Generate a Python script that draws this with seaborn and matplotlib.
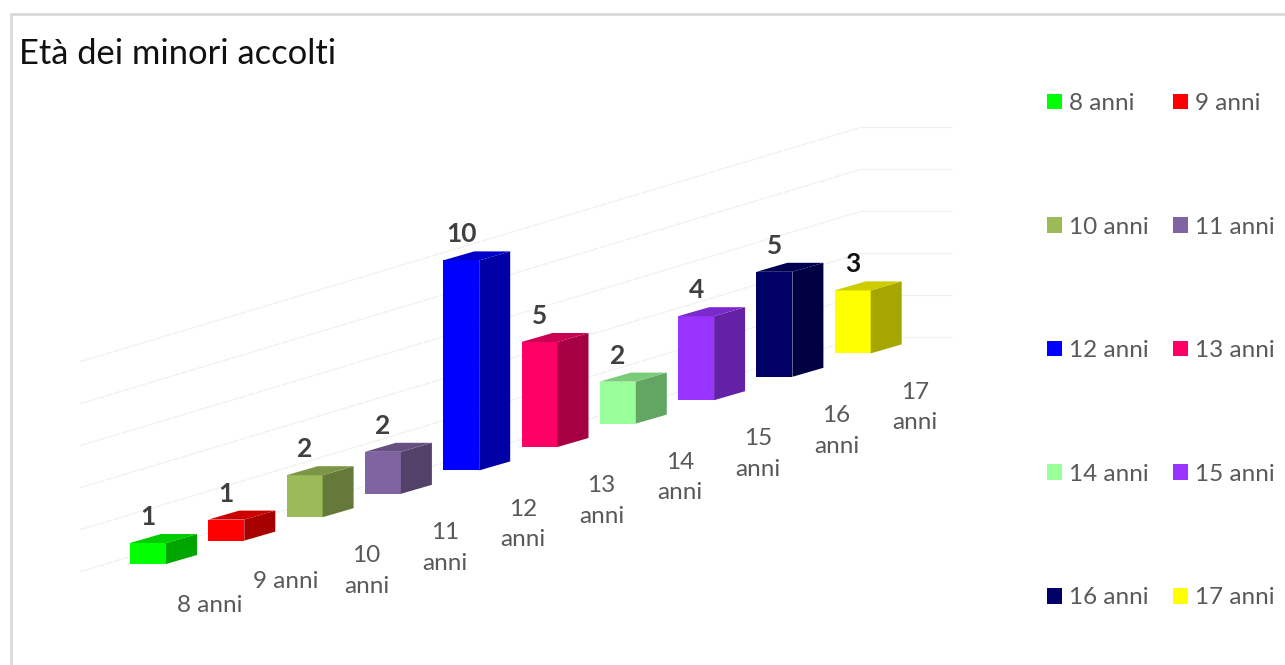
import matplotlib
matplotlib.use("Agg")
import matplotlib.pyplot as plt
from matplotlib.colors import to_rgb
from matplotlib.patches import Patch, Polygon
import seaborn as sns

# Data
ages = ["8 anni", "9 anni", "10 anni", "11 anni", "12 anni",
        "13 anni", "14 anni", "15 anni", "16 anni", "17 anni"]
counts = [1, 1, 2, 2, 10, 5, 2, 4, 5, 3]
colors = ["#00FF00", "#FF0000", "#9BBB59", "#8064A2", "#0000FF",
          "#FF0066", "#99FF99", "#9933FF", "#000066", "#FFFF00"]
tick_labels = ["8 anni", "9 anni", "10\nanni", "11\nanni", "12\nanni",
               "13\nanni", "14\nanni", "15\nanni", "16\nanni", "17\nanni"]
grid_levels = [0, 2, 4, 6, 8, 10]

# Layout of the fake 3D view, in pixels of the 1285x665 picture
W, H = 1285, 665
STEP_X = 78.3
STEP_Y = 23.4
UNIT = 21.0
FIRST_CENTER = 148.0
FIRST_BASE = 564.0
DEPTH_X = 31.0 / STEP_X
DEPTH_Y = 9.0 / UNIT

sns.set_theme(style="white")
plt.rcParams["font.family"] = ["Lato", "DejaVu Sans"]

fig = plt.figure(figsize=(W / 100, H / 100), dpi=100)
ax = fig.add_axes([0, 0, 1, 1])

sns.barplot(x=ages, y=counts, hue=ages, palette=colors, hue_order=ages,
            order=ages, legend=False, dodge=False, width=36 / STEP_X,
            saturation=1, linewidth=0, ax=ax, zorder=3)

ax.set_xlim(-FIRST_CENTER / STEP_X, (W - FIRST_CENTER) / STEP_X)
ax.set_ylim(0, H / UNIT)
ax.axis("off")


def base_of(i):
    # the floor climbs to the right
    return (H - FIRST_BASE + i * STEP_Y) / UNIT


def px_x(p):
    return (p - FIRST_CENTER) / STEP_X


def px_y(p):
    return (H - p) / UNIT


# Back wall gridlines
for level in grid_levels:
    offset = level * UNIT
    ax.plot([px_x(80), px_x(862)], [px_y(571.7 - offset), px_y(337 - offset)],
            color="#EFEFEF", lw=0.9, ls=(0, (6, 1)), zorder=1)
    ax.plot([px_x(862), px_x(952)], [px_y(337 - offset), px_y(337 - offset)],
            color="#F0F0F0", lw=0.9, zorder=1)

# Lift each front face onto the floor and add its side and top
for i, (bar, value) in enumerate(zip(ax.patches, counts)):
    base = base_of(i)
    bar.set_y(base)
    left = bar.get_x()
    right = left + bar.get_width()
    top = base + value
    rgb = to_rgb(colors[i])
    side = [c * 0.65 for c in rgb]
    lid = [c * 0.8 for c in rgb]
    ax.add_patch(Polygon([(right, base), (right + DEPTH_X, base + DEPTH_Y),
                          (right + DEPTH_X, top + DEPTH_Y), (right, top)],
                         facecolor=side, edgecolor="none", zorder=3))
    ax.add_patch(Polygon([(left, top), (right, top),
                          (right + DEPTH_X, top + DEPTH_Y),
                          (left + DEPTH_X, top + DEPTH_Y)],
                         facecolor=lid, edgecolor="none", zorder=3))
    ax.text(i, top + 26 / UNIT, str(value), ha="center", va="center",
            fontsize=19, fontweight="bold",
            color="#111111" if i == 9 else "#404040", zorder=4)
    # category labels run along the front edge of the floor
    two_lines = "\n" in tick_labels[i]
    ax.text(i + (62 if i != 1 else 59) / STEP_X,
            base - (54 if two_lines else 41) / UNIT,
            tick_labels[i], ha="center", va="center", fontsize=17.5,
            color="#595959", linespacing=1.56, zorder=4)

# Chart frame, only top and left show
ax.plot([px_x(11), px_x(11), px_x(W)], [px_y(H), px_y(14), px_y(14)],
        color="#D9D9D9", lw=2, zorder=0, clip_on=False)

ax.text(px_x(19), px_y(54), "Età dei minori accolti", ha="left", va="center",
        fontsize=24.8, color="#111111")

# Legend fills by column, so split odd and even rows
order = list(range(0, 10, 2)) + list(range(1, 10, 2))
handles = [Patch(facecolor=colors[k], edgecolor="none", label=ages[k]) for k in order]
fig.legend(handles=handles, ncol=2, frameon=False, fontsize=17.5,
           loc="upper left", bbox_to_anchor=(1047 / W, 1 - 93 / H),
           borderaxespad=0, borderpad=0, labelspacing=4.22, handlelength=0.62,
           handleheight=0.62, handletextpad=0.29, columnspacing=1.0,
           labelcolor="#595959")

fig.savefig("out.png", dpi=100)
